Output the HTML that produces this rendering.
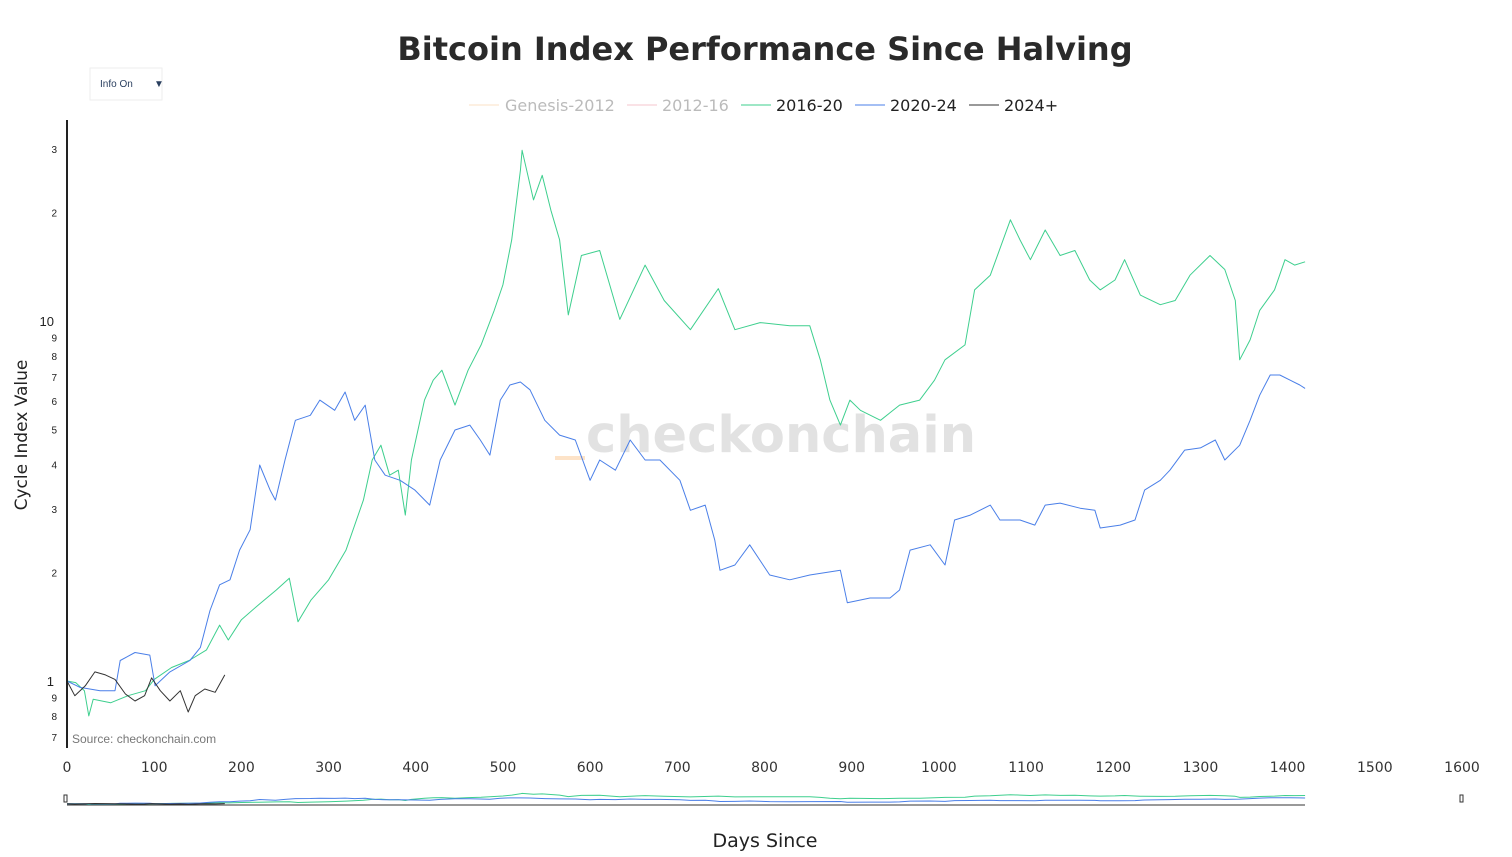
<!DOCTYPE html>
<html><head><meta charset="utf-8">
<style>
body{margin:0;background:#fff;font-family:"Liberation Sans","DejaVu Sans",sans-serif;}
svg{display:block}
</style></head>
<body>
<svg id="chart" width="1512" height="857" viewBox="0 0 1512 857" xmlns="http://www.w3.org/2000/svg">
<text x="765" y="60" text-anchor="middle" font-size="32" font-weight="bold" fill="#2a2a2a" font-family="DejaVu Sans, sans-serif">Bitcoin Index Performance Since Halving</text>
<g>
<rect x="90" y="68" width="72" height="32" fill="#fff" stroke="#eee"/>
<text x="100" y="87" font-size="10" fill="#2a3f5f">Info On</text>
<text x="154" y="87" font-size="10" fill="#2a3f5f">▼</text>
</g>
<g font-size="16" font-family="DejaVu Sans, sans-serif">
<g><line x1="469" y1="105" x2="499" y2="105" stroke="#fbe0c4"/><text x="505" y="111" fill="#bbb">Genesis-2012</text></g>
<g><line x1="627" y1="105" x2="657" y2="105" stroke="#f6c6cc"/><text x="662" y="111" fill="#bbb">2012-16</text></g>
<g><line x1="741" y1="105" x2="771" y2="105" stroke="#3ecf8e"/><text x="776" y="111" fill="#222">2016-20</text></g>
<g><line x1="855" y1="105" x2="885" y2="105" stroke="#4a7fe8"/><text x="890" y="111" fill="#222">2020-24</text></g>
<g><line x1="969" y1="105" x2="999" y2="105" stroke="#333"/><text x="1004" y="111" fill="#222">2024+</text></g>
</g>
<text x="781" y="452" text-anchor="middle" font-size="51" font-weight="bold" fill="#e2e2e2" font-family="DejaVu Sans, sans-serif">checkonchain</text>
<rect x="555" y="456" width="30" height="4" fill="#fde3c8"/>
<g id="plot"></g>
<line x1="67" y1="120" x2="67" y2="748" stroke="#222" stroke-width="2"/>
<text x="72" y="743" font-size="12" fill="#777">Source: checkonchain.com</text>
<text transform="translate(27,435) rotate(-90)" text-anchor="middle" font-size="17" fill="#222" font-family="DejaVu Sans, sans-serif">Cycle Index Value</text>
<text x="765" y="847" text-anchor="middle" font-size="19" fill="#222" font-family="DejaVu Sans, sans-serif">Days Since</text>
<g id="ticks"></g>
<g id="slider"></g>
</svg>
<script>
const greenDays=[0,10,20,25,30,50,70,90,100,120,140,160,175,185,200,220,240,255,265,280,300,320,340,350,360,370,380,388,395,410,420,430,445,460,475,490,500,510,520,522,535,545,555,565,575,590,611,634,663,685,715,747,766,795,829,852,864,875,887,898,910,933,955,978,995,1007,1030,1041,1059,1082,1093,1105,1122,1139,1156,1173,1185,1202,1213,1231,1254,1271,1288,1311,1328,1340,1345,1357,1368,1385,1397,1408,1420];
const greenVals=[1.00,0.99,0.94,0.80,0.89,0.87,0.91,0.94,1.01,1.09,1.14,1.22,1.43,1.30,1.48,1.63,1.79,1.93,1.46,1.68,1.91,2.31,3.18,4.11,4.52,3.73,3.85,2.89,4.11,6.03,6.85,7.30,5.84,7.30,8.58,10.7,12.6,16.8,26.2,29.8,21.7,25.4,20.3,16.8,10.4,15.2,15.7,10.1,14.3,11.4,9.46,12.3,9.46,9.9,9.7,9.7,7.8,6.03,5.14,6.03,5.65,5.30,5.84,6.03,6.85,7.8,8.58,12.2,13.4,19.1,16.8,14.8,17.9,15.2,15.7,13.0,12.2,13.0,14.8,11.8,11.1,11.4,13.4,15.2,13.9,11.4,7.8,8.86,10.7,12.2,14.8,14.3,14.6];
const blueDays=[0,15,38,55,61,78,95,101,118,141,153,164,175,187,198,210,221,233,239,250,262,279,290,307,319,330,342,353,365,382,399,416,428,445,462,474,485,497,508,520,531,548,565,583,600,611,629,646,663,680,703,715,732,743,749,766,783,806,829,852,887,895,921,944,955,967,990,1007,1018,1036,1059,1070,1093,1110,1122,1139,1162,1179,1185,1208,1225,1236,1254,1265,1282,1300,1317,1328,1345,1357,1368,1380,1391,1403,1414,1420];
const blueVals=[1.00,0.96,0.94,0.94,1.14,1.20,1.18,0.97,1.06,1.14,1.24,1.57,1.85,1.91,2.31,2.63,3.98,3.39,3.18,4.11,5.30,5.47,6.03,5.65,6.35,5.30,5.84,4.11,3.73,3.61,3.39,3.08,4.11,4.98,5.14,4.67,4.24,6.03,6.64,6.77,6.44,5.30,4.82,4.67,3.61,4.11,3.85,4.67,4.11,4.11,3.61,2.98,3.08,2.46,2.03,2.10,2.39,1.97,1.91,1.97,2.03,1.65,1.70,1.70,1.79,2.31,2.39,2.10,2.80,2.89,3.08,2.80,2.80,2.71,3.08,3.12,3.02,2.98,2.66,2.71,2.80,3.39,3.61,3.85,4.38,4.44,4.67,4.11,4.52,5.30,6.22,7.08,7.08,6.85,6.64,6.50];
const blackDays=[0,9,21,32,44,55,67,78,89,97,107,118,130,139,147,158,170,181];
const blackVals=[1.00,0.91,0.97,1.06,1.04,1.01,0.92,0.88,0.91,1.02,0.94,0.88,0.94,0.82,0.91,0.95,0.93,1.04];
const xTicks=[0,100,200,300,400,500,600,700,800,900,1000,1100,1200,1300,1400,1500,1600];
const yTicks=[0.7,0.8,0.9,1,2,3,4,5,6,7,8,9,10,20,30];
const yTickLabels=["7","8","9","1","2","3","4","5","6","7","8","9","10","2","3"];

const NS="http://www.w3.org/2000/svg";
const X=d=>67+d*(1395/1600);
const Y=v=>681-360*Math.log10(v);
const sY=v=>805-7*Math.log10(v/0.65);
function mk(tag,attrs,parent){const e=document.createElementNS(NS,tag);for(const k in attrs)e.setAttribute(k,attrs[k]);parent.appendChild(e);return e;}
const plot=document.getElementById('plot');
function series(days,vals,color,name,parent,yf){
  const d=days.map((t,i)=>(i?'L':'M')+X(t).toFixed(1)+','+yf(vals[i]).toFixed(1)).join('');
  const p=mk('path',{d:d,fill:'none',stroke:color,'stroke-width':1,'stroke-linejoin':'round'},parent);
  
  
}
series(greenDays,greenVals,'#3ecf8e','line-2016-20',plot,Y);
series(blueDays,blueVals,'#4a7fe8','line-2020-24',plot,Y);
series(blackDays,blackVals,'#333','line-2024-plus',plot,Y);
const ticks=document.getElementById('ticks');
xTicks.forEach(t=>{
  const e=mk('text',{x:X(t),y:772,'text-anchor':'middle','font-size':14,fill:'#333','font-family':'DejaVu Sans, sans-serif'},ticks);
  e.textContent=t;
  
  
});
yTicks.forEach((t,i)=>{
  const big=(t===1||t===10);
  const e=mk('text',{x:big?54:57,y:Y(t)+(big?5:4),'text-anchor':'end','font-size':big?13:10,fill:'#222'},ticks);
  e.textContent=yTickLabels[i];
  
  
});
const sl=document.getElementById('slider');
mk('line',{x1:67,y1:805,x2:1305,y2:805,stroke:'#333','stroke-width':1},sl);
series(greenDays,greenVals,'#3ecf8e','slider-line-2016-20',sl,sY);
series(blueDays,blueVals,'#4a7fe8','slider-line-2020-24',sl,sY);
series(blackDays,blackVals,'#333','slider-line-2024-plus',sl,sY);
const h1=mk('rect',{x:64,y:795,width:3,height:7,fill:'#fff',stroke:'#333','stroke-width':1},sl);


const h2=mk('rect',{x:1460,y:795,width:3,height:7,fill:'#fff',stroke:'#333','stroke-width':1},sl);


</script>
</body></html>
